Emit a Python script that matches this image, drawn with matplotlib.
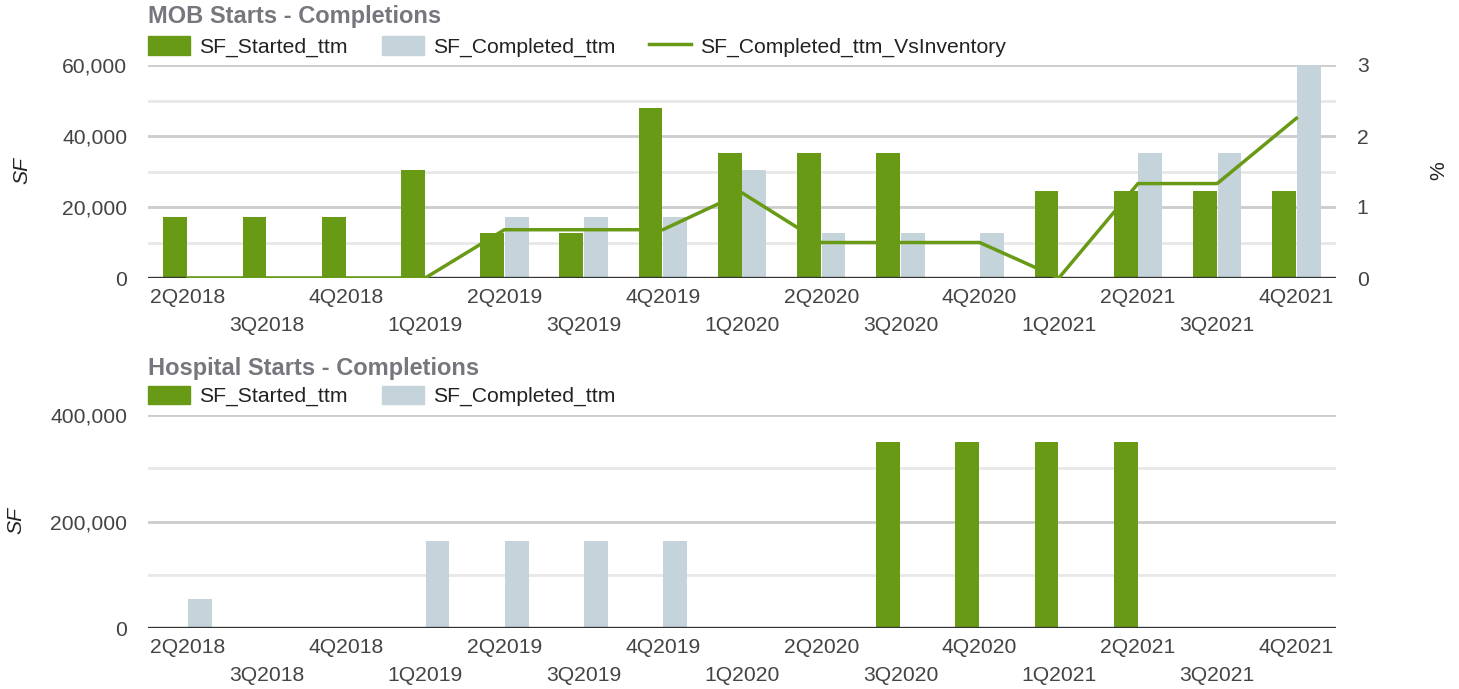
import matplotlib
matplotlib.use("Agg")
import matplotlib.pyplot as plt
import numpy as np
from matplotlib.patches import Patch
from matplotlib.lines import Line2D

quarters = ["2Q2018", "3Q2018", "4Q2018", "1Q2019", "2Q2019", "3Q2019", "4Q2019",
            "1Q2020", "2Q2020", "3Q2020", "4Q2020", "1Q2021", "2Q2021", "3Q2021", "4Q2021"]

mob_started = [17200, 17200, 17200, 30300, 12800, 12800, 48000,
               35300, 35300, 35300, 0, 24600, 24600, 24600, 24600]
mob_completed = [0, 0, 0, 0, 17200, 17200, 17200,
                 30300, 12800, 12800, 12800, 0, 35300, 35300, 60000]
mob_vs_inventory = [0, 0, 0, 0, 0.68, 0.68, 0.68,
                    1.2, 0.5, 0.5, 0.5, 0, 1.33, 1.33, 2.25]

hosp_started = [0, 0, 0, 0, 0, 0, 0, 0, 0, 350000, 350000, 350000, 350000, 0, 0]
hosp_completed = [54000, 0, 0, 163000, 163000, 163000, 163000, 0, 0, 0, 0, 0, 0, 0, 0]

GREEN = "#689a16"
GRAY = "#c5d3db"
TXT = "#444444"
LEG = "#222222"
TITLE = "#76767e"
FS = 15.2

plt.rcParams["font.family"] = ["Liberation Sans", "DejaVu Sans"]

W, H = 1459, 689
fig = plt.figure(figsize=(W / 100, H / 100), dpi=100)

def fx(px):
    return px / W

def fy(py):
    return 1 - py / H

x = np.arange(len(quarters))
bw = 0.30

def style_axis(ax, ymax, major, minor):
    ax.set_xlim(-0.5, len(quarters) - 0.5)
    ax.set_ylim(0, ymax)
    for s in ax.spines.values():
        s.set_visible(False)
    for v in np.arange(minor, ymax + 1, minor):
        is_major = abs(v / major - round(v / major)) < 1e-9
        ax.axhline(v, color="#cccccc" if is_major else "#e8e8e8", lw=2, zorder=0)
    ax.axhline(0, color="#333333", lw=2.4, zorder=5)
    ax.set_yticks(np.arange(0, ymax + 1, major))
    ax.yaxis.set_major_formatter(matplotlib.ticker.FuncFormatter(lambda v, p: f"{int(v):,}"))
    ax.tick_params(axis="y", length=0, pad=15, labelsize=FS, labelcolor=TXT)
    even = x[::2]
    odd = x[1::2]
    ax.set_xticks(even, [quarters[i] for i in even])
    ax.set_xticks(odd, [quarters[i] for i in odd], minor=True)
    ax.tick_params(axis="x", which="both", length=0, labelsize=FS, labelcolor=TXT)
    ax.tick_params(axis="x", which="major", pad=7.5)
    ax.tick_params(axis="x", which="minor", pad=27.5)

def add_legend(handles, labels, ypx):
    fig.legend(handles, labels, loc="center left",
               bbox_to_anchor=(fx(148), fy(ypx)), bbox_transform=fig.transFigure,
               ncol=len(handles), frameon=False, fontsize=FS,
               handlelength=2.0, handleheight=1.0, handletextpad=0.43,
               columnspacing=1.6, borderaxespad=0, borderpad=0, labelcolor=LEG)

# ---- Top chart ----
ax1 = fig.add_axes([fx(148), fy(278), fx(1336) - fx(148), fy(65) - fy(278)])
ax1.bar(x - bw / 2 - 0.005, mob_started, bw, color=GREEN, zorder=3)
ax1.bar(x + bw / 2 + 0.005, mob_completed, bw, color=GRAY, zorder=3)
style_axis(ax1, 60000, 20000, 10000)
ax1.set_ylabel("SF", fontsize=FS, style="italic", color=LEG)
ax1.yaxis.set_label_coords(fx(22) - fx(148), 0.5)
ax1.yaxis.label.set_transform(fig.transFigure)
ax1.yaxis.label.set_position((fx(22), fy(171)))

ax1r = ax1.twinx()
ax1r.plot(x, mob_vs_inventory, color=GREEN, lw=2.5, zorder=6)
ax1r.set_ylim(0, 3)
ax1r.set_yticks([0, 1, 2, 3])
for s in ax1r.spines.values():
    s.set_visible(False)
ax1r.tick_params(axis="y", length=0, pad=15, labelsize=FS, labelcolor=TXT)
fig.text(fx(1439), fy(171), "%", fontsize=FS, color=LEG, rotation=90,
         ha="center", va="center")

fig.text(fx(148), fy(17), "MOB Starts - Completions", fontsize=17, fontweight="bold",
         color=TITLE, va="center", ha="left")
add_legend([Patch(color=GREEN), Patch(color=GRAY), Line2D([], [], color=GREEN, lw=2.5)],
           ["SF_Started_ttm", "SF_Completed_ttm", "SF_Completed_ttm_VsInventory"], 46.5)

# ---- Bottom chart ----
ax2 = fig.add_axes([fx(148), fy(628), fx(1336) - fx(148), fy(415) - fy(628)])
ax2.bar(x - bw / 2 - 0.005, hosp_started, bw, color=GREEN, zorder=3)
ax2.bar(x + bw / 2 + 0.005, hosp_completed, bw, color=GRAY, zorder=3)
style_axis(ax2, 400000, 200000, 100000)
fig.text(fx(16), fy(521), "SF", fontsize=FS, style="italic", color=LEG, rotation=90,
         ha="center", va="center")
ax1.set_ylabel("")
fig.text(fx(22), fy(171), "SF", fontsize=FS, style="italic", color=LEG, rotation=90,
         ha="center", va="center")

fig.text(fx(148), fy(368), "Hospital Starts - Completions", fontsize=17, fontweight="bold",
         color=TITLE, va="center", ha="left")
add_legend([Patch(color=GREEN), Patch(color=GRAY)],
           ["SF_Started_ttm", "SF_Completed_ttm"], 396)

fig.savefig("out.png", dpi=100)
